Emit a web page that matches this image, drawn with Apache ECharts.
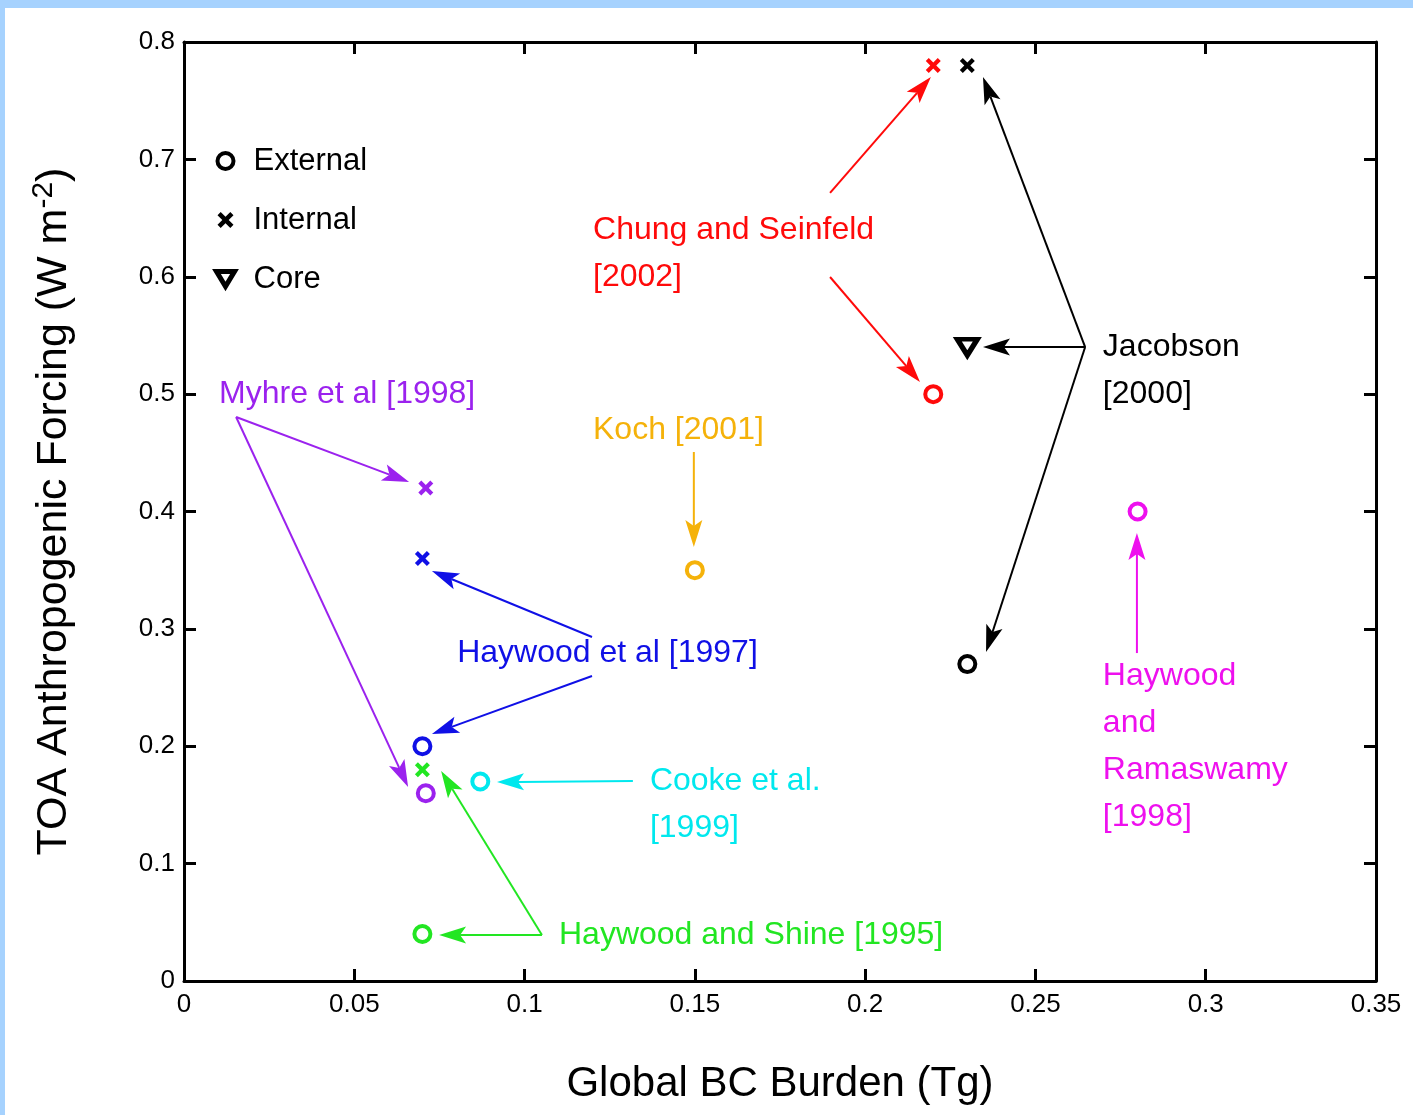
<!DOCTYPE html>
<html>
<head>
<meta charset="utf-8">
<script src="https://cdn.jsdelivr.net/npm/echarts@6/dist/echarts.min.js"></script>
<style>
html,body{margin:0;padding:0;background:#fff;}
#chart{width:1413px;height:1115px;}
</style>
</head>
<body>
<div id="chart"></div>
<script>
// ---------- data ----------
const xTicks = [0, 0.05, 0.1, 0.15, 0.2, 0.25, 0.3, 0.35];
const yTicks = [0, 0.1, 0.2, 0.3, 0.4, 0.5, 0.6, 0.7, 0.8];

const externalStudies = ['Haywood and Shine [1995]', 'Haywood et al [1997]', 'Myhre et al [1998]', 'Cooke et al. [1999]', 'Haywood and Ramaswamy [1998]', 'Jacobson [2000]', 'Koch [2001]', 'Chung and Seinfeld [2002]'];
const externalBurden = [0.07, 0.07, 0.071, 0.087, 0.28, 0.23, 0.15, 0.22];
const externalForcing = [0.04, 0.20, 0.16, 0.17, 0.40, 0.27, 0.35, 0.50];

const internalStudies = ['Haywood and Shine [1995]', 'Haywood et al [1997]', 'Myhre et al [1998]', 'Jacobson [2000]', 'Chung and Seinfeld [2002]'];
const internalBurden = [0.07, 0.07, 0.071, 0.23, 0.22];
const internalForcing = [0.18, 0.36, 0.42, 0.78, 0.78];

const coreStudies = ['Jacobson [2000]'];
const coreBurden = [0.23];
const coreForcing = [0.54];

// annotation labels (text, anchor of first line in data units)
const labelStudies = ['Chung and Seinfeld [2002]', 'Jacobson [2000]', 'Myhre et al [1998]', 'Koch [2001]', 'Haywood et al [1997]', 'Cooke et al. [1999]', 'Haywood and Shine [1995]', 'Haywood and Ramaswamy [1998]'];
const labelTexts = ['Chung and Seinfeld\n[2002]', 'Jacobson\n[2000]', 'Myhre et al [1998]', 'Koch [2001]', 'Haywood et al [1997]', 'Cooke et al.\n[1999]', 'Haywood and Shine [1995]', 'Haywood\nand\nRamaswamy\n[1998]'];
const labelX = [0.1201, 0.2698, 0.0103, 0.1201, 0.0802, 0.1368, 0.1101, 0.2698];
const labelY = [0.6398, 0.5401, 0.5001, 0.4694, 0.2794, 0.1704, 0.0392, 0.2599];

// annotation arrows (data units)
const arrowStudies = ['Chung and Seinfeld [2002]', 'Chung and Seinfeld [2002]', 'Jacobson [2000]', 'Jacobson [2000]', 'Jacobson [2000]', 'Myhre et al [1998]', 'Myhre et al [1998]', 'Koch [2001]', 'Haywood et al [1997]', 'Haywood et al [1997]', 'Cooke et al. [1999]', 'Haywood and Shine [1995]', 'Haywood and Shine [1995]', 'Haywood and Ramaswamy [1998]'];
const arrowFromX = [0.1897, 0.1897, 0.2646, 0.2646, 0.2646, 0.0153, 0.0153, 0.1497, 0.1198, 0.1198, 0.1318, 0.1051, 0.1051, 0.2798];
const arrowFromY = [0.6714, 0.5998, 0.5401, 0.5401, 0.5401, 0.4805, 0.4805, 0.4507, 0.2931, 0.2599, 0.1704, 0.0392, 0.0392, 0.2794];
const arrowToX = [0.2193, 0.2161, 0.2346, 0.2346, 0.2355, 0.0661, 0.0658, 0.1497, 0.0728, 0.0728, 0.0919, 0.0749, 0.0755, 0.2798];
const arrowToY = [0.7702, 0.5103, 0.7702, 0.5401, 0.2803, 0.4251, 0.1653, 0.3698, 0.3493, 0.2104, 0.1695, 0.0392, 0.1790, 0.3817];

// ---------- styles ----------
const FONT = '"Liberation Sans", Arial, Helvetica, sans-serif';
const studyColors = {
  'Haywood and Shine [1995]': '#22e622',
  'Haywood et al [1997]': '#1010e6',
  'Myhre et al [1998]': '#9b22ee',
  'Cooke et al. [1999]': '#00e8ee',
  'Haywood and Ramaswamy [1998]': '#ee10ee',
  'Jacobson [2000]': '#000000',
  'Koch [2001]': '#f5b20a',
  'Chung and Seinfeld [2002]': '#ff0a0a'
};
const X_PATH = 'path://M2,0 L5,3 L8,0 L10,2 L7,5 L10,8 L8,10 L5,7 L2,10 L0,8 L3,5 L0,2 Z';
const TRI_PATH = 'path://M0,0 L12,0 L6,10 Z';

const chart = echarts.init(document.getElementById('chart'), null, {renderer: 'canvas'});

const axisCommon = {
  type: 'value',
  splitLine: {show: false},
  axisLine: {show: true, onZero: false, lineStyle: {color: '#000', width: 3}},
  axisTick: {show: true, inside: true, length: 12, lineStyle: {color: '#000', width: 3}}
};

const option = {
  animation: false,
  backgroundColor: '#fff',
  textStyle: {fontFamily: FONT},
  graphic: [
    {type: 'rect', left: 0, top: 0, shape: {width: 1413, height: 8}, style: {fill: '#a6d2fe'}, silent: true},
    {type: 'rect', left: 0, top: 0, shape: {width: 5, height: 1115}, style: {fill: '#a6d2fe'}, silent: true}
  ],
  grid: {left: 184, right: 37, top: 42, bottom: 134, containLabel: false, outerBoundsMode: 'none'},
  legend: {
    orient: 'vertical',
    left: 209,
    top: 140,
    itemWidth: 18,
    itemHeight: 16,
    itemGap: 27,
    selectedMode: false,
    textStyle: {fontFamily: FONT, fontSize: 31, color: '#000', lineHeight: 32, padding: [0, 0, 0, 14]},
    data: [
      {name: 'External', icon: 'circle', itemStyle: {color: '#fff', borderColor: '#000', borderWidth: 4}},
      {name: 'Internal', icon: X_PATH, itemStyle: {color: '#000', borderWidth: 0}},
      {name: 'Core', icon: TRI_PATH, itemStyle: {color: '#fff', borderColor: '#000', borderWidth: 5}}
    ]
  },
  xAxis: [
    Object.assign({}, axisCommon, {
      min: xTicks[0], max: xTicks[xTicks.length - 1], interval: xTicks[1] - xTicks[0],
      position: 'bottom',
      name: 'Global BC Burden (Tg)', nameLocation: 'middle', nameGap: 82,
      nameTextStyle: {fontFamily: FONT, fontSize: 42, color: '#000'},
      axisLabel: {fontFamily: FONT, fontSize: 26, color: '#000', margin: 11}
    }),
    Object.assign({}, axisCommon, {
      min: xTicks[0], max: xTicks[xTicks.length - 1], interval: xTicks[1] - xTicks[0],
      position: 'top', axisLabel: {show: false}
    })
  ],
  yAxis: [
    Object.assign({}, axisCommon, {
      min: yTicks[0], max: yTicks[yTicks.length - 1], interval: yTicks[1] - yTicks[0],
      position: 'left',
      name: 'TOA Anthropogenic Forcing (W m{sup|-2})', nameLocation: 'middle', nameGap: 105,
      nameTextStyle: {fontFamily: FONT, fontSize: 43, color: '#000', lineHeight: 50,
        rich: {sup: {fontFamily: FONT, fontSize: 30, color: '#000', verticalAlign: 'top', lineHeight: 30}}},
      axisLabel: {fontFamily: FONT, fontSize: 26, color: '#000', margin: 9}
    }),
    Object.assign({}, axisCommon, {
      min: yTicks[0], max: yTicks[yTicks.length - 1], interval: yTicks[1] - yTicks[0],
      position: 'right', axisLabel: {show: false}
    })
  ],
  series: [
    {
      name: 'Arrows', type: 'custom', xAxisIndex: 0, yAxisIndex: 0, silent: true, z: 3,
      data: arrowFromX.map((x, i) => [x, arrowFromY[i], arrowToX[i], arrowToY[i]]),
      encode: {x: [0, 2], y: [1, 3]},
      renderItem: function (params, api) {
        const p1 = api.coord([api.value(0), api.value(1)]);
        const p2 = api.coord([api.value(2), api.value(3)]);
        const col = studyColors[arrowStudies[params.dataIndex]];
        const dx = p2[0] - p1[0], dy = p2[1] - p1[1];
        const len = Math.sqrt(dx * dx + dy * dy);
        const ux = dx / len, uy = dy / len;
        const px = -uy, py = ux;
        const L = 27, W = 8.5, N = 21;
        const back = [p2[0] - ux * L, p2[1] - uy * L];
        const notch = [p2[0] - ux * N, p2[1] - uy * N];
        return {
          type: 'group',
          children: [
            {type: 'line', shape: {x1: p1[0], y1: p1[1], x2: notch[0], y2: notch[1]},
              style: {stroke: col, lineWidth: 2}},
            {type: 'polygon', shape: {points: [p2, [back[0] + px * W, back[1] + py * W], notch, [back[0] - px * W, back[1] - py * W]]},
              style: {fill: col}}
          ]
        };
      }
    },
    {
      name: 'Labels', type: 'custom', xAxisIndex: 0, yAxisIndex: 0, silent: true, z: 3,
      data: labelX.map((x, i) => [x, labelY[i]]),
      renderItem: function (params, api) {
        const p = api.coord([api.value(0), api.value(1)]);
        const LH = 47;
        return {
          type: 'text', x: p[0], y: p[1] - LH / 2,
          style: {
            text: labelTexts[params.dataIndex],
            fill: studyColors[labelStudies[params.dataIndex]],
            font: '32px ' + FONT,
            lineHeight: LH,
            align: 'left', verticalAlign: 'top'
          }
        };
      }
    },
    {
      name: 'External', type: 'scatter', symbol: 'circle', symbolSize: 16, z: 5,
      itemStyle: {color: '#fff', borderColor: '#000', borderWidth: 4, opacity: 1},
      data: externalBurden.map((x, i) => ({
        value: [x, externalForcing[i]], name: externalStudies[i],
        itemStyle: {borderColor: studyColors[externalStudies[i]]}
      }))
    },
    {
      name: 'Internal', type: 'scatter', symbol: X_PATH, symbolSize: 15, z: 5,
      itemStyle: {color: '#000', opacity: 1},
      data: internalBurden.map((x, i) => ({
        value: [x, internalForcing[i]], name: internalStudies[i],
        itemStyle: {color: studyColors[internalStudies[i]]}
      }))
    },
    {
      name: 'Core', type: 'scatter', symbol: TRI_PATH, symbolSize: [20, 16], z: 5,
      itemStyle: {color: '#fff', borderColor: '#000', borderWidth: 5, opacity: 1},
      data: coreBurden.map((x, i) => ({
        value: [x, coreForcing[i]], name: coreStudies[i],
        itemStyle: {borderColor: studyColors[coreStudies[i]]}
      }))
    }
  ]
};
chart.setOption(option);
</script>
</body>
</html>
